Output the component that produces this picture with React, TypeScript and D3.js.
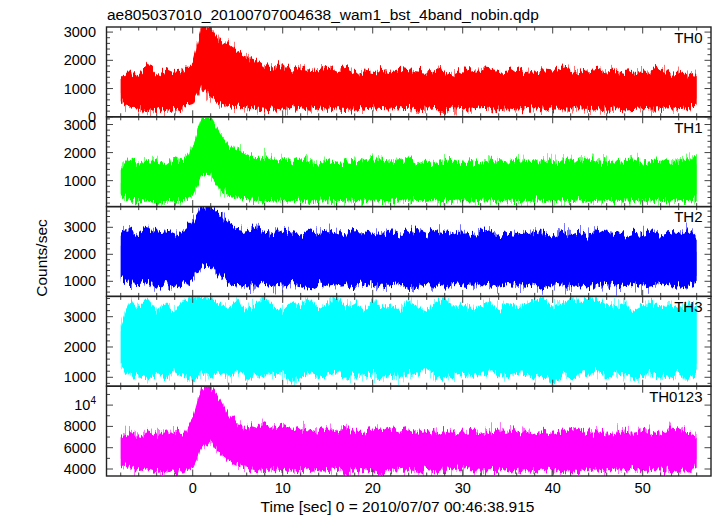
import React from 'react';
import * as d3 from 'd3';

const W = 717;
const H = 516;
const TITLE = 'ae805037010_20100707004638_wam1_bst_4band_nobin.qdp';
const X_LABEL = 'Time [sec] 0 = 2010/07/07 00:46:38.915';
const Y_LABEL = 'Counts/sec';

// time grid of the envelope samples (sec)
const TIME_START = -8;
const TIME_END = 56;
const TIME_STEP = 1;

// upper / lower envelopes of each light curve, one value per second (t = -8 .. 56)
const th0Hi = [
  1300, 1650, 1450, 1850, 1500, 1700, 1550, 1650, 1950, 3180,
  3180, 2700, 2600, 2300, 2150, 2000, 1800, 1750, 1900, 1650,
  1800, 1700, 1650, 1750, 1600, 1700, 1550, 1600, 1550, 1700,
  1600, 1700, 1650, 1600, 1550, 1700, 1600, 1500, 1650, 1600,
  1700, 1650, 1550, 1600, 1700, 1550, 1600, 1650, 1600, 1750,
  1700, 1600, 1650, 1700, 1600, 1650, 1550, 1600, 1550, 1650,
  1750, 1550, 1600, 1500, 1450,
];
const th0Lo = [
  550, 300, 250, 200, 300, 150, 250, 350, 450, 1100,
  700, 450, 350, 400, 300, 300, 250, 300, 250, 350,
  300, 250, 300, 250, 300, 280, 300, 250, 300, 280,
  250, 300, 320, 250, 300, 270, 250, 300, 280, 250,
  300, 320, 260, 300, 250, 280, 300, 250, 300, 270,
  250, 300, 280, 300, 250, 300, 260, 280, 300, 250,
  280, 300, 270, 300, 400,
];
const th1Hi = [
  1450, 1750, 1600, 1700, 1650, 1550, 1800, 1700, 2200, 3275,
  3275, 2700, 2250, 2100, 1950, 1800, 1850, 1700, 1750, 1650,
  1800, 1700, 1650, 1750, 1600, 1700, 1650, 1700, 1800, 1750,
  1650, 1700, 1800, 1650, 1750, 1600, 1700, 1750, 1650, 1700,
  1600, 1750, 1700, 1650, 1750, 1700, 1650, 1750, 1700, 1650,
  1750, 1700, 1800, 1700, 1650, 1750, 1700, 1750, 1650, 1700,
  1750, 1650, 1700, 1800, 1800,
];
const th1Lo = [
  500, 300, 250, 300, 200, 280, 250, 300, 500, 1200,
  1150, 700, 450, 400, 350, 300, 250, 280, 300, 250,
  300, 200, 280, 300, 250, 300, 280, 250, 300, 270,
  250, 300, 280, 320, 250, 300, 260, 280, 300, 250,
  280, 300, 250, 300, 270, 250, 300, 280, 250, 300,
  270, 300, 250, 280, 300, 250, 300, 280, 250, 300,
  280, 250, 300, 270, 350,
];
const th2Hi = [
  2800, 2900, 2750, 3000, 2800, 2850, 2700, 2900, 3200, 3767,
  3767, 3500, 3100, 2900, 2850, 3000, 2800, 2750, 2900, 2800,
  2700, 2850, 2750, 2900, 2800, 2700, 2850, 2850, 2800, 2750,
  2850, 2700, 2800, 2900, 2750, 2900, 2800, 2700, 2850, 2750,
  2800, 2900, 2700, 2800, 2750, 2850, 2900, 2800, 2700, 2850,
  2750, 2800, 2700, 2950, 2800, 2750, 2700, 2800, 2750, 2850,
  2700, 2800, 2750, 2900, 2600,
];
const th2Lo = [
  1100, 900, 850, 950, 800, 900, 750, 850, 1100, 1500,
  1600, 1150, 1000, 900, 850, 800, 900, 850, 800, 900,
  850, 750, 900, 800, 850, 900, 800, 850, 900, 800,
  850, 900, 800, 750, 900, 850, 800, 900, 850, 800,
  900, 850, 800, 900, 850, 800, 900, 700, 850, 800,
  900, 850, 800, 850, 900, 800, 850, 900, 800, 850,
  900, 800, 850, 800, 950,
];
const th3Hi = [
  2700, 3500, 3300, 3600, 3200, 3450, 3150, 3550, 3660, 3660,
  3600, 3400, 3300, 3550, 3200, 3400, 3660, 3300, 3200, 3500,
  3350, 3600, 3250, 3400, 3660, 3300, 3450, 3200, 3550, 3300,
  3400, 3250, 3500, 3350, 3200, 3450, 3600, 3300, 3400, 3250,
  3350, 3500, 3200, 3450, 3300, 3400, 3550, 3660, 3300, 3400,
  3600, 3450, 3660, 3550, 3400, 3300, 3450, 3200, 3350, 3500,
  3300, 3400, 3250, 3450, 3300,
];
const th3Lo = [
  1400, 1050, 1150, 950, 1100, 1000, 1200, 1050, 900, 1100,
  1000, 1150, 1050, 1200, 950, 1100, 1000, 1150, 1100, 850,
  1050, 1150, 1000, 1100, 1200, 950, 1100, 1050, 1150, 900,
  1100, 1000, 1150, 1050, 1200, 1100, 950, 1050, 1150, 1000,
  1100, 1200, 1050, 1000, 1100, 1150, 950, 1050, 850, 1100,
  1000, 1150, 1050, 1200, 1000, 1100, 1050, 950, 1150, 1050,
  1100, 1000, 1150, 850, 1200,
];
const th0123Hi = [
  6900, 7500, 7000, 7600, 7200, 7400, 7600, 7300, 8800, 11775,
  11775, 10500, 9000, 8300, 8000, 7700, 8200, 7700, 8000, 7600,
  7800, 7700, 7500, 7900, 7600, 7800, 7500, 7500, 7700, 7400,
  7800, 7500, 7700, 7400, 7600, 7300, 7700, 7500, 7400, 7600,
  7300, 7500, 7700, 7400, 7600, 7500, 7300, 7600, 7400, 7700,
  7500, 7700, 7400, 7600, 7300, 7500, 7700, 7400, 7600, 7500,
  7300, 7800, 7700, 7400, 7100,
];
const th0123Lo = [
  4500, 4000, 3800, 4000, 3700, 3900, 3600, 3800, 4300, 6000,
  6500, 5500, 4800, 4300, 4000, 3900, 3800, 3900, 3800, 4000,
  3700, 3900, 4000, 3800, 3900, 3700, 4000, 3850, 3900, 3700,
  4000, 3800, 3900, 3750, 4000, 3850, 3700, 3900, 4000, 3800,
  3750, 3900, 3850, 4000, 3700, 3900, 3800, 4000, 3850, 3700,
  3900, 3800, 4000, 3750, 3900, 3850, 3700, 4000, 3800, 3900,
  3850, 3700, 3950, 3800, 4200,
];

const panelNames = ['TH0', 'TH1', 'TH2', 'TH3', 'TH0123'];
const panelHi = [th0Hi, th1Hi, th2Hi, th3Hi, th0123Hi];
const panelLo = [th0Lo, th1Lo, th2Lo, th3Lo, th0123Lo];
const panelColors = ['#ff0000', '#00ff00', '#0000ff', '#00ffff', '#ff00ff'];
const panelYMin = [0, 75, 441, 706, 3343];
const panelYMax = [3180, 3275, 3767, 3670, 11775];
const panelMajorStep = [1000, 1000, 1000, 1000, 2000];
const panelMinorStep = [200, 200, 200, 200, 1000];

const xMin = -9.58;
const xMax = 57.59;
const xMajorStep = 10;
const xMinorStep = 2;

// layout
const LEFT = 106.5;
const RIGHT = 711;
const TOP = 27;
const BOTTOM = 476;
const NP = panelNames.length;
const PH = (BOTTOM - TOP) / NP;
const FONT = '"Liberation Sans", Arial, Helvetica, sans-serif';
const FRAME = '#222';
const TICK = '#444';

function ticksFor(min: number, max: number, step: number) {
  const out: number[] = [];
  const start = Math.ceil(min / step - 1e-9) * step;
  for (let v = start; v <= max + 1e-9; v += step) out.push(Math.round(v * 1000) / 1000);
  return out;
}

function TickLabel({ v, x, y }: { v: number; x: number; y: number }) {
  if (v >= 10000) {
    const exp = Math.round(Math.log10(v));
    return (
      <text x={x} y={y} textAnchor="end" fontSize={14.5} fontFamily={FONT} fill="#000">
        10<tspan fontSize={10} dy={-6}>{exp}</tspan>
      </text>
    );
  }
  return (
    <text x={x} y={y} textAnchor="end" fontSize={14.5} fontFamily={FONT} fill="#000">
      {v}
    </text>
  );
}

export default function App() {
  const x = d3.scaleLinear().domain([xMin, xMax]).range([LEFT, RIGHT]);
  const times = d3.range(TIME_START, TIME_END + TIME_STEP / 2, TIME_STEP);
  const xMajor = ticksFor(xMin, xMax, xMajorStep);
  const xMinor = ticksFor(xMin, xMax, xMinorStep).filter((t) => t % xMajorStep !== 0);

  return (
    <svg width={W} height={H} style={{ position: 'absolute', left: 0, top: 0, background: '#fff' }}>
      <defs>
        {panelNames.map((_, i) => (
          <React.Fragment key={'f' + i}>
            <filter id={`jitA${i}`} x="-0.02" y="-0.4" width="1.04" height="1.8" filterUnits="objectBoundingBox">
              <feTurbulence type="fractalNoise" baseFrequency="0.7 0.015" numOctaves={2} seed={i * 7 + 3} result="n" />
              <feColorMatrix in="n" type="matrix" values="1.6 0 0 0 -0.3  0 0 0 0 0.5  0 0 0 0 0  0 0 0 0 1" result="m" />
              <feDisplacementMap in="SourceGraphic" in2="m" scale={26} xChannelSelector="G" yChannelSelector="R" />
            </filter>
            <filter id={`jitB${i}`} x="-0.02" y="-0.4" width="1.04" height="1.8" filterUnits="objectBoundingBox">
              <feTurbulence type="fractalNoise" baseFrequency="0.45 0.02" numOctaves={2} seed={i * 11 + 5} result="n" />
              <feColorMatrix in="n" type="matrix" values="1.4 0 0 0 -0.2  0 0 0 0 0.5  0 0 0 0 0  0 0 0 0 1" result="m" />
              <feDisplacementMap in="SourceGraphic" in2="m" scale={12} xChannelSelector="G" yChannelSelector="R" />
            </filter>
          </React.Fragment>
        ))}
      </defs>
      <rect x={0} y={0} width={W} height={H} fill="#fff" />
      <text x={107} y={19.5} fontSize={15.5} fontFamily={FONT} fill="#000">
        {TITLE}
      </text>
      {panelNames.map((name, i) => {
        const top = TOP + i * PH;
        const bot = top + PH;
        const y = d3.scaleLinear().domain([panelYMin[i], panelYMax[i]]).range([bot, top]);
        const hi = panelHi[i];
        const lo = panelLo[i];
        const area = d3
          .area<number>()
          .x((t) => x(t))
          .y0((_, k) => y(lo[k]))
          .y1((_, k) => y(hi[k]))
          .curve(d3.curveLinear);
        const outer = d3
          .area<number>()
          .x((t) => x(t))
          .y0((_, k) => y(lo[k]) - 4)
          .y1((_, k) => y(hi[k]) + 4)
          .curve(d3.curveLinear);
        const yMajor = ticksFor(panelYMin[i], panelYMax[i], panelMajorStep[i]);
        const yMinor = ticksFor(panelYMin[i], panelYMax[i], panelMinorStep[i]).filter(
          (v) => v % panelMajorStep[i] !== 0
        );
        const clipId = `clip${i}`;
        return (
          <g key={name}>
            <defs>
              <clipPath id={clipId}>
                <rect x={LEFT} y={top} width={RIGHT - LEFT} height={PH} />
              </clipPath>
            </defs>
            <g clipPath={`url(#${clipId})`}>
              <path d={outer(times) || ''} fill={panelColors[i]} fillOpacity={0.55} filter={`url(#jitA${i})`} />
              <path d={area(times) || ''} fill={panelColors[i]} filter={`url(#jitB${i})`} />
            </g>
            {/* x ticks top & bottom */}
            {xMajor.map((t) => (
              <g key={'xM' + t} stroke={TICK} strokeWidth={1}>
                <line x1={x(t)} x2={x(t)} y1={top} y2={top + 6.5} />
                <line x1={x(t)} x2={x(t)} y1={bot} y2={bot - 6.5} />
              </g>
            ))}
            {xMinor.map((t) => (
              <g key={'xm' + t} stroke={TICK} strokeWidth={1}>
                <line x1={x(t)} x2={x(t)} y1={top} y2={top + 3.5} />
                <line x1={x(t)} x2={x(t)} y1={bot} y2={bot - 3.5} />
              </g>
            ))}
            {/* y ticks left & right */}
            {yMajor.map((v) => (
              <g key={'yM' + v} stroke={TICK} strokeWidth={1}>
                <line x1={LEFT} x2={LEFT + 6.5} y1={y(v)} y2={y(v)} />
                <line x1={RIGHT} x2={RIGHT - 6.5} y1={y(v)} y2={y(v)} />
              </g>
            ))}
            {yMinor.map((v) => (
              <g key={'ym' + v} stroke={TICK} strokeWidth={1}>
                <line x1={LEFT} x2={LEFT + 3.5} y1={y(v)} y2={y(v)} />
                <line x1={RIGHT} x2={RIGHT - 3.5} y1={y(v)} y2={y(v)} />
              </g>
            ))}
            {yMajor.map((v) => (
              <TickLabel key={'yl' + v} v={v} x={96} y={y(v) + 5} />
            ))}
            <rect x={LEFT} y={top} width={RIGHT - LEFT} height={PH} fill="none" stroke={FRAME} strokeWidth={1.4} />
            <text x={702.5} y={top + 15.7} textAnchor="end" fontSize={15} fontFamily={FONT} fill="#000">
              {name}
            </text>
          </g>
        );
      })}
      {xMajor.map((t) => (
        <text key={'xl' + t} x={x(t)} y={493} textAnchor="middle" fontSize={14.5} fontFamily={FONT} fill="#000">
          {t}
        </text>
      ))}
      <text x={397.5} y={512} textAnchor="middle" fontSize={15.5} fontFamily={FONT} fill="#000">
        {X_LABEL}
      </text>
      <text
        transform={`translate(47,258) rotate(-90)`}
        textAnchor="middle"
        fontSize={15.5}
        fontFamily={FONT}
        fill="#000"
      >
        {Y_LABEL}
      </text>
    </svg>
  );
}
